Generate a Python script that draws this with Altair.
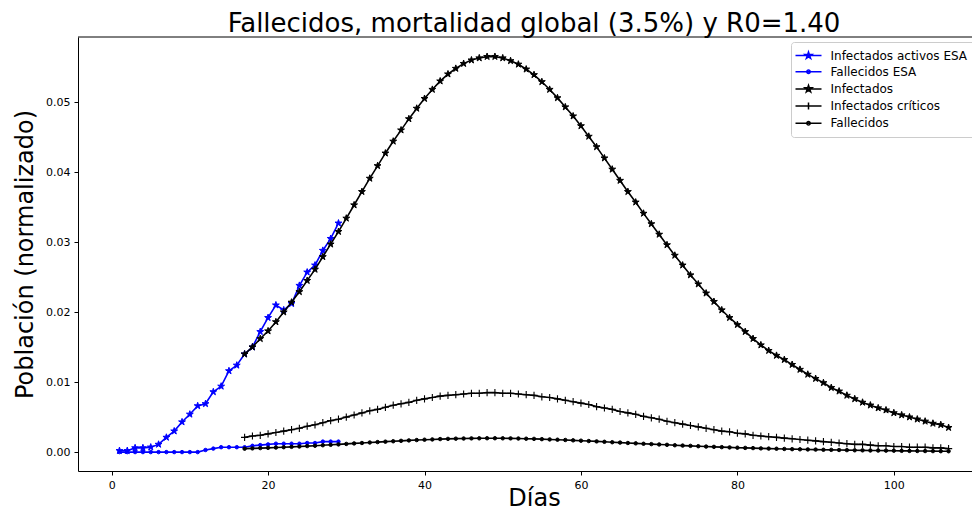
import math
import altair as alt
import pandas as pd

# ---------------- data ----------------
dias_esa = list(range(1, 30))
infectados_activos_esa = [
    0.0002, 0.0002, 0.0006, 0.0006, 0.0007, 0.0011, 0.0021, 0.0030, 0.0043, 0.0054,
    0.0066, 0.0069, 0.0086, 0.0094, 0.0116, 0.0124, 0.0140, 0.0150, 0.0172, 0.0192,
    0.0210, 0.0203, 0.0212, 0.0238, 0.0257, 0.0267, 0.0288, 0.0305, 0.0327,
]
fallecidos_esa = [
    0.0, 0.0, 0.0, 0.0, 0.0, 0.0, 0.0, 0.0, 0.0, 0.0,
    0.0, 0.0003, 0.0005, 0.0007, 0.0007, 0.0007, 0.0007, 0.0009, 0.0010, 0.0011,
    0.0012, 0.0012, 0.0012, 0.0012, 0.0013, 0.0013, 0.0015, 0.0015, 0.0015,
]

dias_modelo = list(range(17, 108))
infectados = [
    0.0140, 0.0150, 0.0162, 0.0173, 0.0186, 0.0200, 0.0214, 0.0229, 0.0245, 0.0261,  # 17-26
    0.0279, 0.0297, 0.0315, 0.0334, 0.0353, 0.0372, 0.0391, 0.0409, 0.0427, 0.0444,  # 27-36
    0.0460, 0.0476, 0.0491, 0.0505, 0.0518, 0.0530, 0.0540, 0.0548, 0.0555, 0.0560,  # 37-46
    0.0563, 0.0565, 0.0565, 0.0563, 0.0559, 0.0554, 0.0547, 0.0539, 0.0529, 0.0518,  # 47-56
    0.0506, 0.0493, 0.0480, 0.0466, 0.0451, 0.0436, 0.0420, 0.0404, 0.0388, 0.0372,  # 57-66
    0.0357, 0.0341, 0.0326, 0.0311, 0.0296, 0.0281, 0.0267, 0.0253, 0.0240, 0.0227,  # 67-76
    0.0215, 0.0203, 0.0192, 0.0182, 0.0172, 0.0162, 0.0153, 0.0145, 0.0138, 0.0132,  # 77-86
    0.0125, 0.0118, 0.0111, 0.0105, 0.0099, 0.0092, 0.0087, 0.0081, 0.0076, 0.0071,  # 87-96
    0.0067, 0.0063, 0.0060, 0.0056, 0.0053, 0.0050, 0.0047, 0.0044, 0.0041, 0.0039,  # 97-106
    0.0035,                                                                          # 107
]
infectados_criticos = [
    0.0021, 0.0023, 0.0024, 0.0026, 0.0028, 0.0030, 0.0032, 0.0034, 0.0037, 0.0039,
    0.0042, 0.0045, 0.0047, 0.0050, 0.0053, 0.0056, 0.0059, 0.0061, 0.0064, 0.0067,
    0.0069, 0.0071, 0.0074, 0.0076, 0.0078, 0.0080, 0.0081, 0.0082, 0.0083, 0.0084,
    0.0084, 0.0085, 0.0085, 0.0084, 0.0084, 0.0083, 0.0082, 0.0081, 0.0079, 0.0078,
    0.0076, 0.0074, 0.0072, 0.0070, 0.0068, 0.0065, 0.0063, 0.0061, 0.0058, 0.0056,
    0.0054, 0.0051, 0.0049, 0.0047, 0.0044, 0.0042, 0.0040, 0.0038, 0.0036, 0.0034,
    0.0032, 0.0030, 0.0029, 0.0027, 0.0026, 0.0024, 0.0023, 0.0022, 0.0021, 0.0020,
    0.0019, 0.0018, 0.0017, 0.0016, 0.0015, 0.0014, 0.0013, 0.0012, 0.0011, 0.0011,
    0.0010, 0.0009, 0.0009, 0.0008, 0.0008, 0.0007, 0.0007, 0.0007, 0.0006, 0.0006,
    0.0005,
]
fallecidos = [
    0.00049, 0.00053, 0.00057, 0.00061, 0.00065, 0.00070, 0.00075, 0.00080, 0.00086, 0.00091,
    0.00098, 0.00104, 0.00110, 0.00117, 0.00124, 0.00130, 0.00137, 0.00143, 0.00149, 0.00155,
    0.00161, 0.00167, 0.00172, 0.00177, 0.00181, 0.00186, 0.00189, 0.00192, 0.00194, 0.00196,
    0.00197, 0.00198, 0.00198, 0.00197, 0.00196, 0.00194, 0.00191, 0.00189, 0.00185, 0.00181,
    0.00177, 0.00173, 0.00168, 0.00163, 0.00158, 0.00153, 0.00147, 0.00141, 0.00136, 0.00130,
    0.00125, 0.00119, 0.00114, 0.00109, 0.00104, 0.00098, 0.00093, 0.00089, 0.00084, 0.00079,
    0.00075, 0.00071, 0.00067, 0.00063, 0.00060, 0.00057, 0.00053, 0.00050, 0.00048, 0.00045,
    0.00042, 0.00040, 0.00038, 0.00036, 0.00033, 0.00032, 0.00030, 0.00028, 0.00026, 0.00025,
    0.00023, 0.00022, 0.00021, 0.00020, 0.00018, 0.00017, 0.00016, 0.00015, 0.00014, 0.00013,
    0.00012,
]

series = ["Infectados activos ESA", "Fallecidos ESA", "Infectados",
          "Infectados críticos", "Fallecidos"]
colores = ["#0000ff", "#0000ff", "#000000", "#000000", "#000000"]

# ---------------- table ----------------
frames = []
for nombre, xs, ys in [
    (series[0], dias_esa, infectados_activos_esa),
    (series[1], dias_esa, fallecidos_esa),
    (series[2], dias_modelo, infectados),
    (series[3], dias_modelo, infectados_criticos),
    (series[4], dias_modelo, fallecidos),
]:
    frames.append(pd.DataFrame({"dia": xs, "valor": ys, "serie": nombre}))
df = pd.concat(frames, ignore_index=True)

# ---------------- marker shapes ----------------
def star_path(r=1.0):
    pts = []
    for k in range(10):
        ang = math.radians(-90 + 36 * k)
        rr = r if k % 2 == 0 else r * 0.381966
        pts.append((rr * math.cos(ang), rr * math.sin(ang)))
    return "M" + "L".join(f"{x:.3f},{y:.3f}" for x, y in pts) + "Z"

STAR = star_path(1.0)
PLUS = "M-1,0L1,0M0,-1L0,1"

LINE = "M-2.6,0L2.6,0"
leg_star = LINE + star_path(0.72)
leg_dot = LINE + "M-0.34,0A0.34,0.34 0 1,0 0.34,0A0.34,0.34 0 1,0 -0.34,0Z"
leg_plus = LINE + "M0,-0.7L0,0.7M-0.7,0L0.7,0"
leg_paths = [leg_star, leg_dot, leg_star, leg_plus, leg_dot]

FONT = "DejaVu Sans"
PLOT_W, PLOT_H = 894, 434
X_DOM = [-4.3, -4.3 + PLOT_W / 7.822]
Y_DOM = [-0.0027, 0.0593]

x_scale = alt.Scale(domain=X_DOM, nice=False, zero=False)
y_scale = alt.Scale(domain=Y_DOM, nice=False, zero=False)

x_axis = alt.Axis(values=[0, 20, 40, 60, 80, 100], format="d", grid=False,
                  domain=True, title="Días", titleX=456, titleY=34,
                  titleBaseline="alphabetic", titleAlign="center")
y_axis = alt.Axis(values=[0, 0.01, 0.02, 0.03, 0.04, 0.05], format=".2f",
                  grid=False, domain=True,
                  title="Población (normalizado)", titleAngle=270, titleX=-45.5,
                  titleY=217, titleBaseline="alphabetic", titleAlign="center")
color_scale = alt.Scale(domain=series, range=colores)

leg = alt.Legend(
    title=None, orient="none", legendX=713, legendY=5,
    labelFont=FONT, labelFontSize=12, labelColor="black",
    symbolSize=100, symbolStrokeWidth=1.5, symbolOpacity=1,
    padding=7.5, rowPadding=4.2,
    fillColor="white", strokeColor="#cccccc", cornerRadius=3,
    symbolOffset=4, labelOffset=16, labelLimit=300,
)

xe = alt.X("dia:Q", scale=x_scale, axis=x_axis)
ye = alt.Y("valor:Q", scale=y_scale, axis=y_axis)

base = alt.Chart(df)
layers = []
marker_style = {
    series[0]: dict(shape=STAR, filled=True, size=52, strokeWidth=1.0),
    series[1]: dict(shape="circle", filled=True, size=12, strokeWidth=1.0),
    series[2]: dict(shape=STAR, filled=True, size=52, strokeWidth=1.0),
    series[3]: dict(shape=PLUS, filled=False, size=52, strokeWidth=1.1),
    series[4]: dict(shape="circle", filled=True, size=12, strokeWidth=1.0),
}
for nombre, col in zip(series, colores):
    sub = base.transform_filter(alt.datum.serie == nombre)
    linea = sub.mark_line(strokeWidth=1.6).encode(
        x=xe, y=ye,
        color=alt.Color("serie:N", scale=color_scale, legend=leg),
    )
    st = marker_style[nombre]
    puntos = sub.mark_point(
        shape=st["shape"], filled=st["filled"], size=st["size"],
        strokeWidth=st["strokeWidth"], fill=col if st["filled"] else "transparent",
        stroke=col, opacity=1,
    ).encode(x=xe, y=ye)
    layers += [linea, puntos]

# legend carrier (draws nothing itself)
legend_layer = base.transform_filter("false").mark_point(filled=False).encode(
    x=xe, y=ye,
    color=alt.Color("serie:N", scale=color_scale, legend=leg),
    shape=alt.Shape("serie:N", scale=alt.Scale(domain=series, range=leg_paths), legend=leg),
)
layers.append(legend_layer)

# top frame line at the upper end of the value scale
marco = alt.Chart(pd.DataFrame({"tope": [Y_DOM[1]]})).mark_rule(
    color="black", strokeWidth=1
).encode(y=alt.Y("tope:Q", scale=y_scale, axis=y_axis))
layers.append(marco)

chart = alt.layer(*layers).properties(
    width=PLOT_W, height=PLOT_H,
    title=alt.TitleParams(
        "Fallecidos, mortalidad global (3.5%) y R0=1.40",
        font=FONT, fontSize=26, fontWeight="normal", color="black",
        anchor="middle", frame="group", baseline="alphabetic", offset=2, dx=9, dy=23.5,
    ),
    autosize=alt.AutoSizeParams(type="none"),
    padding={"left": 70, "top": 29, "right": 0, "bottom": 40},
    background="white",
).configure_view(
    stroke=None,
).configure_axis(
    labelFont=FONT, labelFontSize=11, labelColor="black", labelPadding=4,
    tickColor="black", tickSize=4, tickWidth=1, domainColor="black", domainWidth=1,
    titleFont=FONT, titleFontSize=24, titleFontWeight="normal", titleColor="black",
)

chart.save("out.html", embed_options={"renderer": "svg", "actions": False})
